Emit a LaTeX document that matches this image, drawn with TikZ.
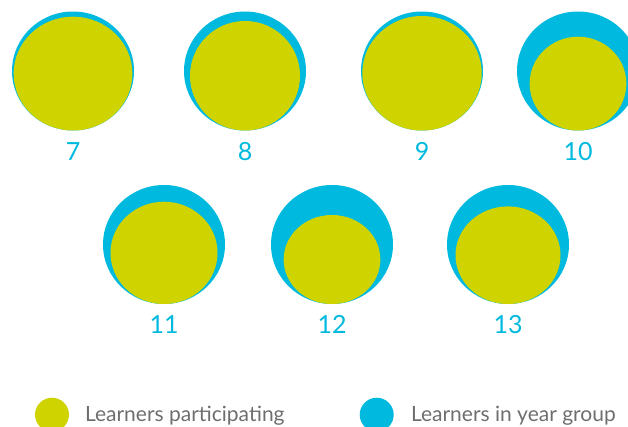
\documentclass[tikz,border=0pt]{standalone}
\usepackage{fontspec}
\setmainfont{Lato}
\usetikzlibrary{shapes}
\definecolor{yeargroup}{RGB}{0,185,222}
\definecolor{participating}{RGB}{207,212,0}
\definecolor{legendtext}{RGB}{109,110,112}

\begin{document}
\begin{tikzpicture}[x=1pt, y=-1pt,
    yeargrp/.style={ellipse, fill=yeargroup, inner sep=0pt, minimum width=122, minimum height=119},
    partic/.style={ellipse, fill=participating, inner sep=0pt},
    yearlabel/.style={anchor=base, text=yeargroup, font=\fontsize{25}{25}\selectfont},
    legend/.style={anchor=base west, text=legendtext, font=\fontsize{21}{21}\selectfont}]

    \clip (0,0) rectangle (628,426);

    % year / centre x / centre y / width and height of participating
    \foreach \yr/\cx/\cy/\w/\h in {7/73/71/118.7/113.8, 8/245/71/110/109.5,
        9/422/71/119.4/114.5, 10/578/71/96.7/93.8, 11/164/244.5/107/102.3,
        12/332/244.5/96.7/89, 13/508/244.5/105/97.6} {
        \draw(\cx,\cy) node[yeargrp] (Y\yr) {};
        \draw(\cx,\cy+59.5-\h/2) node[partic, minimum width=\w, minimum height=\h] (P\yr) {};
        \draw(\cx,\cy+89) node[yearlabel] (L\yr) {\yr};
    }

    \draw(52,414.7) node[circle, fill=participating, inner sep=0pt, minimum size=34] (KP) {};
    \draw(81.5,421) node[legend] (TP) {Learners participating};
    \draw(376.7,414.7) node[circle, fill=yeargroup, inner sep=0pt, minimum size=34] (KY) {};
    \draw(407.5,421) node[legend] (TY) {Learners in year group};

\end{tikzpicture}
\end{document}
